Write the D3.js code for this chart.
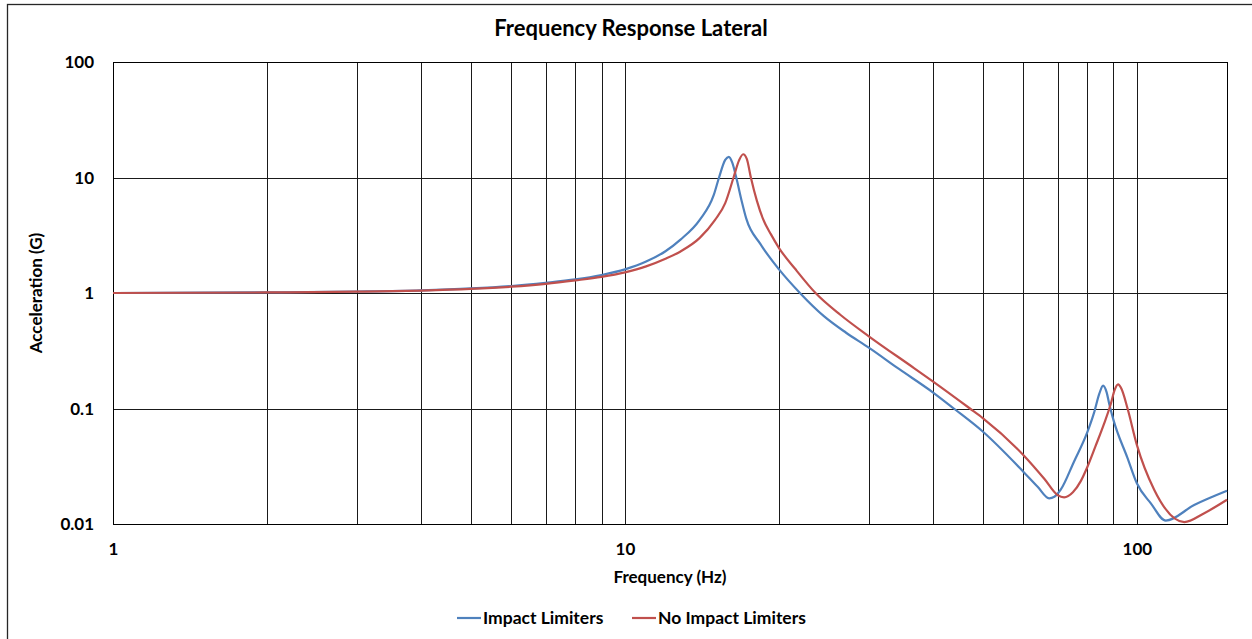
<!DOCTYPE html>
<html>
<head>
<meta charset="utf-8">
<script src="https://cdnjs.cloudflare.com/ajax/libs/d3/7.8.5/d3.min.js"></script>
<style>
  body { margin: 0; background: #fff; }
  text { font-family: Lato, "Open Sans", sans-serif; font-weight: bold; fill: #000; }
</style>
</head>
<body>
<div id="chart"></div>
<script>
const width = 1252, height = 639;
const margin = { left: 113, top: 62, right: 25, bottom: 115 };

// data (Hz, G)
const impactFreq = [1, 2, 3, 4, 5, 6, 7, 8, 9, 10, 11, 12, 12.84, 14, 14.92, 15.27, 15.7, 15.96, 16.2, 16.5, 16.9, 17.26, 18.4, 20,
  21.97, 24.47, 27, 30, 34.3, 40, 43.9, 50, 60, 64, 67.4, 69, 71, 75.4, 80, 82.5, 84.5, 85.9, 87.3, 88.3, 90, 95.9, 100, 106.5, 113.9, 129.4, 150];
const impactVal = [1.0, 1.012, 1.03, 1.055, 1.095, 1.15, 1.225, 1.31, 1.43, 1.6, 1.87, 2.3, 2.9, 4.3, 7.1, 10, 14.2, 15.1, 13.5, 10, 6.3, 4.4, 2.65, 1.6,
  1.0, 0.63, 0.455, 0.335, 0.22, 0.1375, 0.1, 0.0632, 0.0284, 0.021, 0.0167, 0.0172, 0.0198, 0.0348, 0.062, 0.092, 0.135, 0.158, 0.138, 0.11, 0.0797, 0.0372, 0.0225, 0.0151, 0.0107, 0.0146, 0.0194];

const noImpactFreq = [1, 2, 3, 4, 5, 6, 7, 8, 9, 10, 11, 12, 12.84, 14, 15, 15.7, 16.3, 16.7, 17.02, 17.3, 17.62, 18.1, 18.6, 19.3, 20,
  21.5, 23.57, 26.38, 30, 36.7, 40, 47.2, 50, 60, 66, 70, 72.1, 75, 77.7, 80, 83, 86.3, 88.96, 90.5, 91.9, 93.3, 95.9, 100, 108.1, 123.8, 135.4, 150];
const noImpactVal = [1.0, 1.011, 1.027, 1.05, 1.085, 1.134, 1.2, 1.286, 1.38, 1.51, 1.7, 1.98, 2.29, 3.0, 4.3, 6.0, 10, 14, 15.9, 14.5, 10, 6.3, 4.4, 3.2, 2.45,
  1.62, 1.0, 0.645, 0.42, 0.224, 0.171, 0.1, 0.0827, 0.0396, 0.0245, 0.0178, 0.017, 0.0188, 0.0235, 0.031, 0.047, 0.074, 0.11, 0.145, 0.1615, 0.148, 0.1, 0.0484, 0.0198, 0.0104, 0.0124, 0.0162];

const seriesNames = ["Impact Limiters", "No Impact Limiters"];
const seriesColors = ["#4F81BD", "#C0504D"];
const yTicks = [0.01, 0.1, 1, 10, 100];
const yTickLabels = ["0.01", "0.1", "1", "10", "100"];
const xTicks = [1, 10, 100];
const xGrid = [1, 2, 3, 4, 5, 6, 7, 8, 9, 10, 20, 30, 40, 50, 60, 70, 80, 90, 100];

const svg = d3.select("#chart")
  .append("svg")
  .attr("width", width)
  .attr("height", height);

// outer chart border
svg.append("rect")
  .attr("x", 7.5).attr("y", 4.5)
  .attr("width", 1250).attr("height", 650)
  .attr("fill", "none")
  .attr("stroke", "#262626")
  .attr("stroke-width", 1.3);

const pw = width - margin.left - margin.right;
const ph = height - margin.top - margin.bottom;

const x = d3.scaleLog().domain([1, 150]).range([margin.left, margin.left + pw]);
const y = d3.scaleLog().domain([0.01, 100]).range([margin.top + ph, margin.top]);

// grid
svg.append("g")
  .selectAll("line.v")
  .data(xGrid)
  .join("line")
  .attr("x1", d => Math.round(x(d)) + 0.5)
  .attr("x2", d => Math.round(x(d)) + 0.5)
  .attr("y1", margin.top)
  .attr("y2", margin.top + ph)
  .attr("stroke", "#1a1a1a")
  .attr("stroke-width", 1);

svg.append("g")
  .selectAll("line.h")
  .data(yTicks)
  .join("line")
  .attr("x1", margin.left)
  .attr("x2", margin.left + pw)
  .attr("y1", d => Math.round(y(d)) + 0.5)
  .attr("y2", d => Math.round(y(d)) + 0.5)
  .attr("stroke", "#1a1a1a")
  .attr("stroke-width", 1);

svg.append("rect")
  .attr("x", margin.left + 0.5).attr("y", margin.top + 0.5)
  .attr("width", pw).attr("height", ph)
  .attr("fill", "none")
  .attr("stroke", "#000")
  .attr("stroke-width", 1);

// axes (labels only)
const yAxis = svg.append("g")
  .attr("transform", `translate(${margin.left},0)`)
  .call(d3.axisLeft(y).tickValues(yTicks).tickFormat((d, i) => yTickLabels[i]).tickSize(0).tickPadding(19));
yAxis.select(".domain").remove();
yAxis.selectAll("text").style("font-size", "17px").style("font-family", "Lato, sans-serif").attr("dy", "0.35em");

const xAxis = svg.append("g")
  .attr("transform", `translate(0,${margin.top + ph})`)
  .call(d3.axisBottom(x).tickValues(xTicks).tickFormat(d3.format("d")).tickSize(0).tickPadding(19));
xAxis.select(".domain").remove();
xAxis.selectAll("text").style("font-size", "17px").style("font-family", "Lato, sans-serif");

// lines
const line = d3.line()
  .x(d => x(d[0]))
  .y(d => y(d[1]))
  .curve(d3.curveMonotoneX);

const series = [
  d3.zip(impactFreq, impactVal),
  d3.zip(noImpactFreq, noImpactVal)
];

svg.append("g")
  .selectAll("path")
  .data(series)
  .join("path")
  .attr("fill", "none")
  .attr("stroke", (d, i) => seriesColors[i])
  .attr("stroke-width", 2.2)
  .attr("d", line);

// titles
svg.append("text")
  .attr("x", 631).attr("y", 36)
  .attr("text-anchor", "middle")
  .style("font-size", "22px")
  .text("Frequency Response Lateral");

svg.append("text")
  .attr("x", margin.left + pw / 2).attr("y", 583)
  .attr("text-anchor", "middle")
  .style("font-size", "17px")
  .text("Frequency (Hz)");

svg.append("text")
  .attr("transform", `translate(42,${margin.top + ph / 2}) rotate(-90)`)
  .attr("text-anchor", "middle")
  .style("font-size", "17px")
  .text("Acceleration (G)");

// legend
const legendX = [457, 632];
const legend = svg.append("g")
  .selectAll("g")
  .data(seriesNames)
  .join("g")
  .attr("transform", (d, i) => `translate(${legendX[i]},618)`);

legend.append("line")
  .attr("x1", 0).attr("x2", 24)
  .attr("stroke", (d, i) => seriesColors[i])
  .attr("stroke-width", 2.2);

legend.append("text")
  .attr("x", 26).attr("dy", "0.35em")
  .style("font-size", "17.5px")
  .text(d => d);
</script>
</body>
</html>
